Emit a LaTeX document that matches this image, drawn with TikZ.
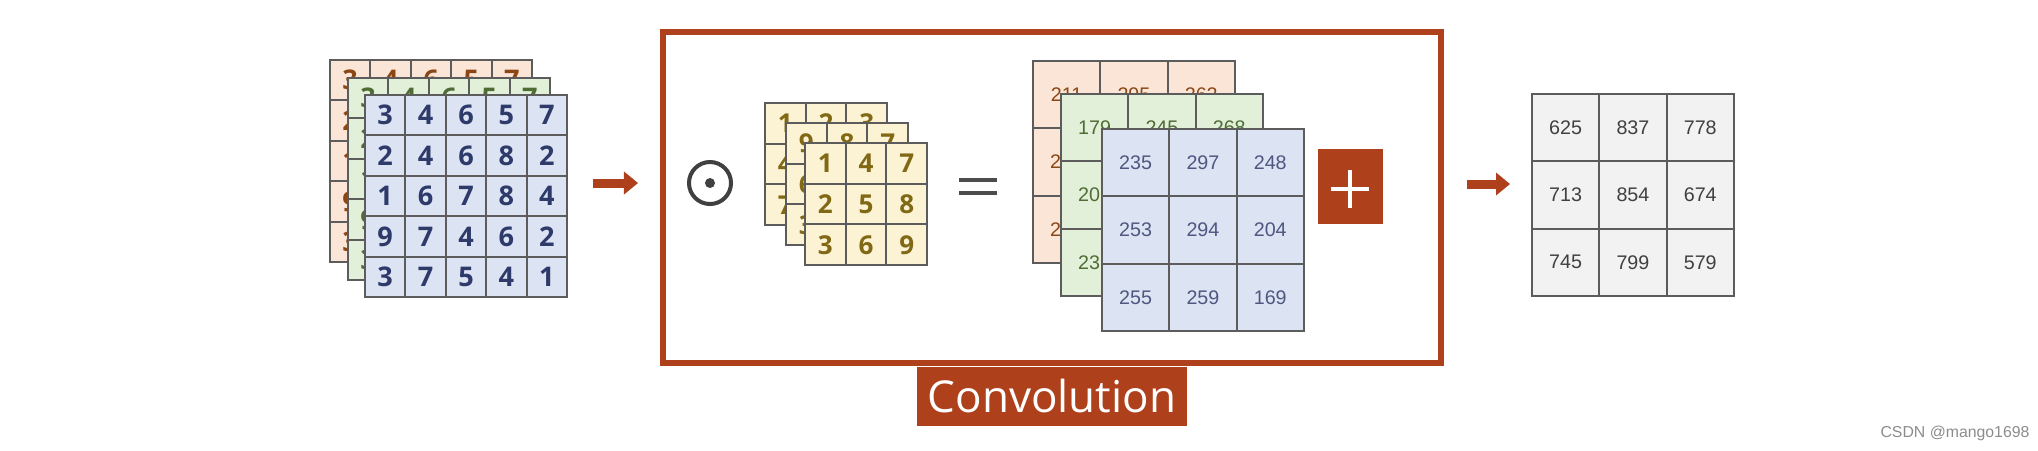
\documentclass[tikz,border=0pt]{standalone}
\usepackage{fontspec}
\setmainfont{Liberation Sans}
\newfontfamily\opensans{Open Sans}
\usepackage{tikz}
\usetikzlibrary{positioning, arrows.meta}
\definecolor{convred}{RGB}{174,64,28}
\definecolor{gridgray}{RGB}{92,92,92}
\definecolor{peachfill}{RGB}{251,229,214}
\definecolor{greenfill}{RGB}{226,239,217}
\definecolor{bluefill}{RGB}{220,227,243}
\definecolor{creamfill}{RGB}{252,243,212}
\definecolor{greyfill}{RGB}{242,242,242}
\definecolor{peachtext}{RGB}{140,70,20}
\definecolor{greentext}{RGB}{78,108,52}
\definecolor{bluetext}{RGB}{46,58,105}
\definecolor{olivetext}{RGB}{128,104,20}
\newcommand{\indigit}{\opensans\bfseries\fontsize{7.7}{8}\selectfont}
\newcommand{\kdigit}{\opensans\bfseries\fontsize{7.4}{8}\selectfont}
\newcommand{\sumdigit}{\fontsize{5.6}{6}\selectfont}
\tikzset{
    cellbase/.style={draw=gridgray, line width=0.6pt, inner sep=0pt, anchor=center},
    inR/.style={cellbase, minimum size=0.404cm, fill=peachfill, text=peachtext, font=\indigit},
    inG/.style={cellbase, minimum size=0.404cm, fill=greenfill, text=greentext, font=\indigit},
    inB/.style={cellbase, minimum size=0.404cm, fill=bluefill, text=bluetext, font=\indigit},
    kcell/.style={cellbase, minimum size=0.407cm, fill=creamfill, text=olivetext, font=\kdigit},
    sumR/.style={cellbase, minimum size=0.673cm, fill=peachfill, text=peachtext, font=\sumdigit},
    sumG/.style={cellbase, minimum size=0.673cm, fill=greenfill, text=greentext, font=\sumdigit},
    sumB/.style={cellbase, minimum size=0.673cm, fill=bluefill, text=bluetext!85, font=\sumdigit},
    outcell/.style={cellbase, minimum size=0.673cm, fill=greyfill, text=black!75, font=\sumdigit},
    convframe/.style={draw=convred, line width=0.06cm, minimum width=7.78cm, minimum height=3.31cm, inner sep=0pt},
    convlabel/.style={fill=convred, text=white, minimum width=2.7cm, minimum height=0.59cm, inner sep=0pt, font=\opensans\fontsize{12.5}{13}\selectfont},
    plusbox/.style={fill=convred, minimum width=0.65cm, minimum height=0.75cm, inner sep=0pt},
    odotring/.style={circle, draw=black!75, line width=0.04cm, minimum size=0.42cm, inner sep=0pt},
    odotdot/.style={circle, fill=black!75, minimum size=0.1cm, inner sep=0pt},
    eqbar/.style={draw=black!70, line width=0.04cm},
    blockarrow/.style={draw=convred, line width=0.09cm, -{Triangle[length=0.14cm, width=0.23cm, line width=0pt]}},
    wmark/.style={text=black!45, font=\fontsize{4.5}{5}\selectfont, inner sep=0pt},
}
% #1 name, #2 x0, #3 y0, #4 cell (px), #5 columns, #6 style, #7 entries
\newcommand{\gridlayer}[7]{%
    \foreach \v [count=\i from 0] in {#7} {
        \pgfmathtruncatemacro{\row}{\i/#5}
        \pgfmathtruncatemacro{\col}{mod(\i,#5)}
        \node[#6] (#1-\row-\col) at ({#2+(\col+0.5)*#4}, {#3+(\row+0.5)*#4}) {\v};
    }%
}

\begin{document}
\begin{tikzpicture}[x=0.01cm, y=-0.01cm]
    \useasboundingbox (0,0) rectangle (2038,450);
    % input volume
    \gridlayer{inR}{330}{60}{40.4}{5}{inR}{3,4,6,5,7,2,4,6,8,2,1,6,7,8,4,9,7,4,6,2,3,7,5,4,1}
    \gridlayer{inG}{348}{78}{40.4}{5}{inG}{3,4,6,5,7,2,4,6,8,2,1,6,7,8,4,9,7,4,6,2,3,7,5,4,1}
    \gridlayer{inB}{365}{95}{40.4}{5}{inB}{3,4,6,5,7,2,4,6,8,2,1,6,7,8,4,9,7,4,6,2,3,7,5,4,1}
    \coordinate (arrAin)  at (593,183);
    \coordinate (arrAout) at (638,183);
    \draw[blockarrow] (arrAin) -- (arrAout);

    % convolution block
    \node[convframe] (frame) at (1052,197.5) {};
    \node[convlabel, below=0pt of frame] (convtxt) {Convolution};
    \node[odotring] (odot) at (710,183) {};
    \node[odotdot] (odotc) at (odot.center) {};
    \gridlayer{kA}{765}{103}{40.7}{3}{kcell}{1,2,3,4,5,6,7,8,9}
    \gridlayer{kB}{786}{123}{40.7}{3}{kcell}{9,8,7,6,5,4,3,2,1}
    \gridlayer{kC}{805}{143}{40.7}{3}{kcell}{1,4,7,2,5,8,3,6,9}
    \draw[eqbar] (959,180) -- (997,180);
    \draw[eqbar] (959,193) -- (997,193);
    \gridlayer{sR}{1033}{61}{67.3}{3}{sumR}{211,295,262,2\phantom{00},{},{},2\phantom{00},{},{}}
    \gridlayer{sG}{1061}{94}{67.3}{3}{sumG}{179,245,268,20\phantom{0},{},{},23\phantom{0},{},{}}
    \gridlayer{sB}{1102}{129}{67.3}{3}{sumB}{235,297,248,253,294,204,255,259,169}
    \node[plusbox] (plus) at (1350.5,186.5) {};
    \draw[white, line width=0.04cm] (1331,189) -- (1369,189) (1350,170) -- (1350,208);

    % output
    \coordinate (arrBin)  at (1467,184);
    \coordinate (arrBout) at (1510,184);
    \draw[blockarrow] (arrBin) -- (arrBout);
    \gridlayer{out}{1532}{94}{67.3}{3}{outcell}{625,837,778,713,854,674,745,799,579}

    \node[wmark] (wm) at (1955,433) {CSDN @mango1698};
\end{tikzpicture}
\end{document}
